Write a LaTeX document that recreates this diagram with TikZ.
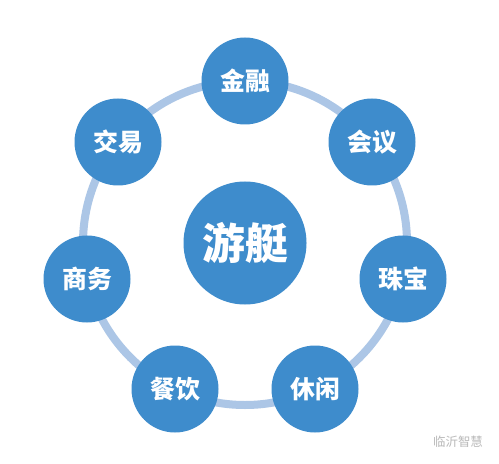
\documentclass[tikz,border=0pt]{standalone}
\usepackage{fontspec}
\newfontfamily\cjk{Noto Sans CJK SC}
\definecolor{discblue}{RGB}{62,140,204}
\definecolor{ringblue}{RGB}{172,198,230}
\begin{document}
\begin{tikzpicture}[x=1bp,y=-1bp,
  disc/.style={circle,fill=discblue,text=white,inner sep=0pt,minimum size=87bp,
    font=\cjk\bfseries\fontsize{25}{25}\selectfont},
  hub/.style={circle,fill=discblue,text=white,inner sep=0pt,minimum size=123bp,
    font=\cjk\bfseries\fontsize{43}{43}\selectfont}]
%%
\useasboundingbox (0,0) rectangle (499,464);
\fill [white] (0,0) rectangle (499,464);
\node (yacht) at (245,243) [hub] {游艇};
\draw [ringblue,line width=8bp] (yacht.center) circle [radius=162bp];
  \node (finance) at (245,81) [disc] {金融};
  \node (meeting) at (372,142) [disc] {会议};
  \node (jewel) at (403,279) [disc] {珠宝};
  \node (leisure) at (315,389) [disc] {休闲};
  \node (dining) at (175,389) [disc] {餐饮};
  \node (business) at (87,279) [disc] {商务};
  \node (trade) at (118,142) [disc] {交易};
  \node (mark) at (458,442) [text=gray!55,font=\cjk\fontsize{12.5}{12.5}\selectfont] {临沂智慧};
%
\end{tikzpicture}
\end{document}
